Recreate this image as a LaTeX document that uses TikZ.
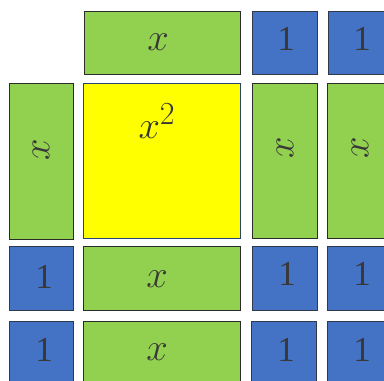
\documentclass[tikz,border=0pt]{standalone}
\usepackage{fontspec}
\usepackage{graphicx}
\newfontfamily\digitfont{Liberation Serif}
\usepackage{xcolor}
\definecolor{tgreen}{HTML}{92D050}
\definecolor{tblue}{HTML}{4472C4}
\definecolor{tyellow}{HTML}{FFFF00}
\definecolor{tedge}{HTML}{2B2B2B}
\definecolor{ttext}{HTML}{383838}
\newcommand{\bigx}{\scalebox{1.55}{$x$}}
\newcommand{\bigxsq}{\scalebox{1.55}{$x^{2}$}}
\begin{document}
\begin{tikzpicture}[x=1pt,y=-1pt,
  gtile/.style={fill=tgreen,draw=tedge,line width=0.9pt},
  btile/.style={fill=tblue,draw=tedge!80!tblue,line width=0.9pt},
  ytile/.style={fill=tyellow,draw=tblue!60!black,line width=0.6pt},
  lab/.style={text=ttext,inner sep=0pt,font=\digitfont\fontsize{35}{40}\selectfont},
  xlab/.style={text=ttext,inner sep=0pt,font=\fontsize{24.88}{30}\selectfont}]
\useasboundingbox (0,0) rectangle (384,381);
\clip (0,0) rectangle (384,381);
% row 0
\draw[gtile] (84,11) rectangle (240,74);
\draw[btile] (252,11) rectangle (317,74);
\draw[btile] (328,11) rectangle (393,74);
% row x
\draw[gtile] (9,83) rectangle (73,239);
\draw[ytile] (83,83) rectangle (240,238);
\draw[gtile] (252,83) rectangle (317,238);
\draw[gtile] (327,83) rectangle (392,238);
% row 1
\draw[btile] (9,246) rectangle (73,310);
\draw[gtile] (83,246) rectangle (240,310);
\draw[btile] (252,246) rectangle (317,310);
\draw[btile] (327,246) rectangle (392,310);
% row 2
\draw[btile] (9,321) rectangle (73,390);
\draw[gtile] (83,321) rectangle (240,390);
\draw[btile] (251,321) rectangle (316,390);
\draw[btile] (327,321) rectangle (392,390);
% labels
\node[xlab] (ltx) at (158,42) {\bigx};
\node[lab] (lt1a) at (286,39) {1};
\node[lab] (lt1b) at (362,39) {1};
\node[xlab,rotate=90] (llx) at (41,150) {\bigx};
\node[xlab] (lsq) at (157,121) {\bigxsq};
\node[xlab,rotate=90] (lrxa) at (285,148) {\bigx};
\node[xlab,rotate=90] (lrxb) at (360,148) {\bigx};
\node[lab] (l1a) at (44,277) {1};
\node[xlab] (lmx1) at (157,279) {\bigx};
\node[lab] (lr1a) at (287,274) {1};
\node[lab] (lr1b) at (362,274) {1};
\node[lab] (l1b) at (44,350) {1};
\node[xlab] (lmx2) at (157,352) {\bigx};
\node[lab] (lr2a) at (286,350) {1};
\node[lab] (lr2b) at (362,350) {1};
\end{tikzpicture}
\end{document}
